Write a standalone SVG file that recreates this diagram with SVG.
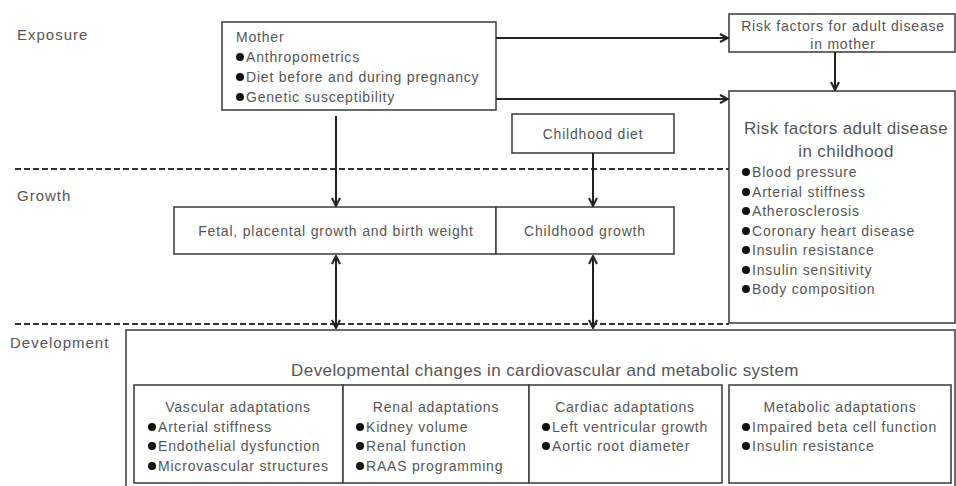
<svg xmlns="http://www.w3.org/2000/svg" width="956" height="486" viewBox="0 0 956 486">
<defs>
<marker id="ah" viewBox="0 0 10 10" refX="9" refY="5" markerWidth="5" markerHeight="5" orient="auto-start-reverse" markerUnits="strokeWidth">
<path d="M1,1 L9,5 L1,9" fill="none" stroke="#222" stroke-width="2"/>
</marker>
<style>
.box{fill:#fff;stroke:#444;stroke-width:1.6}
.t{font-family:"Liberation Sans",Arial,sans-serif;font-size:14px;letter-spacing:0.8px;fill:#555}
.tc{text-anchor:middle}
.big{font-size:17px;letter-spacing:0.4px}
.lbl{font-family:"Liberation Sans",Arial,sans-serif;font-size:15px;letter-spacing:1px;fill:#555}
.dash{stroke:#333;stroke-width:2;stroke-dasharray:6,3;fill:none}
.arr{stroke:#222;stroke-width:2;fill:none;marker-end:url(#ah)}
.bul{fill:#111}
</style>
</defs>
<rect width="956" height="486" fill="#fff"/>
<text class="lbl" x="17" y="40">Exposure</text>
<text class="lbl" x="17" y="201">Growth</text>
<text class="lbl" x="10" y="348">Development</text>
<line class="dash" x1="15" y1="169" x2="729" y2="169"/>
<line class="dash" x1="15" y1="324" x2="729" y2="324"/>
<g id="mother">
<rect class="box" x="222" y="22" width="274" height="88"/>
<text class="t" x="236" y="42">Mother</text>
<circle class="bul" cx="240" cy="57" r="4"/><text class="t" x="246" y="62">Anthropometrics</text>
<circle class="bul" cx="240" cy="77" r="4"/><text class="t" x="246" y="82">Diet before and during pregnancy</text>
<circle class="bul" cx="240" cy="97" r="4"/><text class="t" x="246" y="102">Genetic susceptibility</text>
</g>
<g id="riskmother">
<rect class="box" x="729" y="14" width="226" height="38"/>
<text class="t tc" x="843" y="31">Risk factors for adult disease</text>
<text class="t tc" x="843" y="49">in mother</text>
</g>
<g id="riskchild">
<rect class="box" x="729" y="91" width="226" height="232"/>
<text class="t tc big" x="846" y="134">Risk factors adult disease</text>
<text class="t tc big" x="846" y="157">in childhood</text>
<circle class="bul" cx="746" cy="172" r="4"/><text class="t" x="752" y="177">Blood pressure</text>
<circle class="bul" cx="746" cy="192" r="4"/><text class="t" x="752" y="197">Arterial stiffness</text>
<circle class="bul" cx="746" cy="211" r="4"/><text class="t" x="752" y="216">Atherosclerosis</text>
<circle class="bul" cx="746" cy="231" r="4"/><text class="t" x="752" y="236">Coronary heart disease</text>
<circle class="bul" cx="746" cy="250" r="4"/><text class="t" x="752" y="255">Insulin resistance</text>
<circle class="bul" cx="746" cy="270" r="4"/><text class="t" x="752" y="275">Insulin sensitivity</text>
<circle class="bul" cx="746" cy="289" r="4"/><text class="t" x="752" y="294">Body composition</text>
</g>
<g id="childdiet">
<rect class="box" x="512" y="114" width="162" height="39"/>
<text class="t tc" x="593" y="139">Childhood diet</text>
</g>
<g id="fetal">
<rect class="box" x="174" y="207" width="322" height="47"/>
<text class="t tc" x="336" y="236">Fetal, placental growth and birth weight</text>
</g>
<g id="childgrowth">
<rect class="box" x="496" y="207" width="178" height="47"/>
<text class="t tc" x="585" y="236">Childhood growth</text>
</g>
<g id="development">
<rect class="box" x="126" y="330" width="829" height="170"/>
<text class="t tc big" x="545" y="376">Developmental changes in cardiovascular and metabolic system</text>
</g>
<g id="vascular">
<rect class="box" x="134" y="385" width="209" height="98"/>
<text class="t tc" x="238" y="412">Vascular adaptations</text>
<circle class="bul" cx="152" cy="427" r="4"/><text class="t" x="158" y="432">Arterial stiffness</text>
<circle class="bul" cx="152" cy="446" r="4"/><text class="t" x="158" y="451">Endothelial dysfunction</text>
<circle class="bul" cx="152" cy="466" r="4"/><text class="t" x="158" y="471">Microvascular structures</text>
</g>
<g id="renal">
<rect class="box" x="343" y="385" width="186" height="98"/>
<text class="t tc" x="436" y="412">Renal adaptations</text>
<circle class="bul" cx="360" cy="427" r="4"/><text class="t" x="366" y="432">Kidney volume</text>
<circle class="bul" cx="360" cy="446" r="4"/><text class="t" x="366" y="451">Renal function</text>
<circle class="bul" cx="360" cy="466" r="4"/><text class="t" x="366" y="471">RAAS programming</text>
</g>
<g id="cardiac">
<rect class="box" x="529" y="385" width="193" height="98"/>
<text class="t tc" x="625" y="412">Cardiac adaptations</text>
<circle class="bul" cx="546" cy="427" r="4"/><text class="t" x="552" y="432">Left ventricular growth</text>
<circle class="bul" cx="546" cy="446" r="4"/><text class="t" x="552" y="451">Aortic root diameter</text>
</g>
<g id="metabolic">
<rect class="box" x="729" y="385" width="222" height="98"/>
<text class="t tc" x="840" y="412">Metabolic adaptations</text>
<circle class="bul" cx="746" cy="427" r="4"/><text class="t" x="752" y="432">Impaired beta cell function</text>
<circle class="bul" cx="746" cy="446" r="4"/><text class="t" x="752" y="451">Insulin resistance</text>
</g>
<g id="connectors">
<line class="arr" x1="496" y1="38" x2="728" y2="38"/>
<line class="arr" x1="496" y1="99" x2="728" y2="99"/>
<line class="arr" x1="835" y1="52" x2="835" y2="90"/>
<line class="arr" x1="336" y1="116" x2="336" y2="206"/>
<line class="arr" x1="593" y1="153" x2="593" y2="206"/>
<line class="arr" x1="336" y1="256" x2="336" y2="328" style="marker-start:url(#ah)"/>
<line class="arr" x1="593" y1="256" x2="593" y2="328" style="marker-start:url(#ah)"/>
</g>
</svg>
